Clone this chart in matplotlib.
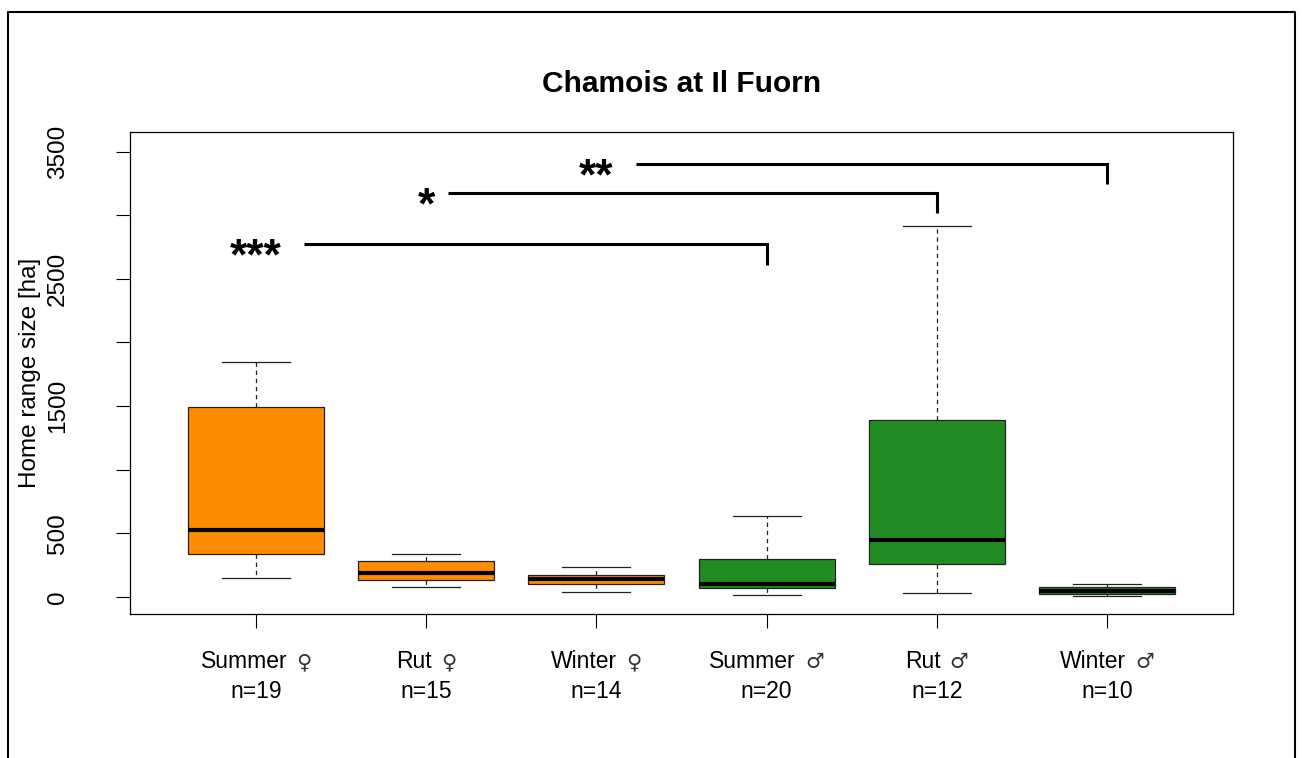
import matplotlib
matplotlib.use('Agg')
import matplotlib.pyplot as plt
import matplotlib.transforms as mtransforms
from matplotlib.lines import Line2D

plt.rcParams['font.family'] = ['Liberation Sans', 'DejaVu Sans']

# home range sizes [ha]
seasons = ['Summer', 'Rut', 'Winter', 'Summer', 'Rut', 'Winter']
sexes = ['\u2640', '\u2640', '\u2640', '\u2642', '\u2642', '\u2642']
n_obs = [19, 15, 14, 20, 12, 10]
whis_lo = [150, 76, 39, 16, 27, 3]
q1 = [333, 129, 102, 66, 260, 20]
median = [527, 189, 142, 100, 444, 42]
q3 = [1492, 283, 173, 297, 1392, 79]
whis_hi = [1843, 333, 234, 637, 2913, 100]
box_colors = ['darkorange'] * 3 + ['forestgreen'] * 3

# significance brackets
sig_labels = ['***', '*', '**']
sig_text_x = [1, 2, 3]
sig_x0 = [1.28, 2.13, 3.23]
sig_x1 = [4, 5, 6]
sig_y = [2774, 3178, 3403]
sig_ybot = [2608, 3020, 3246]

yticks = [0, 500, 1000, 1500, 2000, 2500, 3000, 3500]
ytick_labels = ['0', '500', '', '1500', '', '2500', '', '3500']

fig = plt.figure(figsize=(13.02, 7.58), dpi=100)
ax = fig.add_axes([130/1302, 144/758, 1103/1302, 482/758])

positions = list(range(1, len(seasons) + 1))
stats = []
for i in range(len(seasons)):
    stats.append(dict(med=median[i], q1=q1[i], q3=q3[i],
                      whislo=whis_lo[i], whishi=whis_hi[i], fliers=[]))

bp = ax.bxp(stats, positions=positions, widths=0.8, capwidths=0.4,
            patch_artist=True, showfliers=False,
            boxprops=dict(linewidth=0.9, edgecolor='#222222'),
            medianprops=dict(color='black', linewidth=3, solid_capstyle='butt'),
            whiskerprops=dict(color='#222222', linewidth=0.9, linestyle=(0, (3.5, 3))),
            capprops=dict(color='#222222', linewidth=0.9))
for patch, c in zip(bp['boxes'], box_colors):
    patch.set_facecolor(c)

# brackets + stars
star_tr = mtransforms.offset_copy(ax.transData, fig=fig, y=-18.5, units='points')
for lab, tx, x0, x1, y, yb in zip(sig_labels, sig_text_x, sig_x0, sig_x1, sig_y, sig_ybot):
    ax.plot([x0, x1, x1], [y, y, yb], color='black', lw=2.2,
            solid_capstyle='butt', solid_joinstyle='miter')
    ax.text(tx, y, lab, transform=star_tr, ha='center', va='baseline',
            fontsize=32, fontweight='bold')

ax.set_xlim(0.26, 6.74)
ax.set_ylim(-136, 3655)
ax.set_xticks(positions, [''] * len(positions))
ax.set_yticks(yticks, ytick_labels)
ax.tick_params(axis='both', direction='out', length=10, width=0.8, labelsize=17.5)
ax.tick_params(axis='y', pad=34, labelrotation=90)
for lab in ax.get_yticklabels():
    lab.set_va('center')
for sp in ax.spines.values():
    sp.set_linewidth(0.9)

# x labels: season word + sex symbol (symbol from DejaVu), then n below
renderer = fig.canvas.get_renderer()
gap = 9  # px between word and symbol
for pos, s, sym, n in zip(positions, seasons, sexes, n_obs):
    t1 = ax.annotate(s, xy=(pos, 0), xycoords=('data', 'axes fraction'),
                     xytext=(0, -38.9), textcoords='offset points',
                     ha='left', va='baseline', fontsize=16.5)
    t2 = ax.annotate(sym, xy=(pos, 0), xycoords=('data', 'axes fraction'),
                     xytext=(0, -38.9), textcoords='offset points',
                     ha='left', va='baseline', fontsize=15, family='DejaVu Sans',
                     color='#333333')
    w1 = t1.get_window_extent(renderer).width
    w2 = t2.get_window_extent(renderer).width
    left = -(w1 + gap + w2) / 2
    t1.set_position((left * 72 / 100, -38.9))
    t2.set_position(((left + w1 + gap) * 72 / 100, -38.9))
    ax.annotate('n={}'.format(n), xy=(pos, 0), xycoords=('data', 'axes fraction'),
                xytext=(0, -60.5), textcoords='offset points',
                ha='center', va='baseline', fontsize=16.5)

ax.set_title('Chamois at Il Fuorn', fontsize=21.5, fontweight='bold', pad=29)
fig.text(30/1302, 1 - 373/758, 'Home range size [ha]', rotation=90,
         ha='center', va='center', fontsize=17.5)

# outer frame (left, top, right; cut at the bottom)
fx0, fx1, fy1 = 8/1302, 1295/1302, 1 - 12/758
fig.add_artist(Line2D([fx0, fx0, fx1, fx1], [0, fy1, fy1, 0],
                      transform=fig.transFigure, color='black', lw=1.5))

fig.savefig('out.png', dpi=100)
